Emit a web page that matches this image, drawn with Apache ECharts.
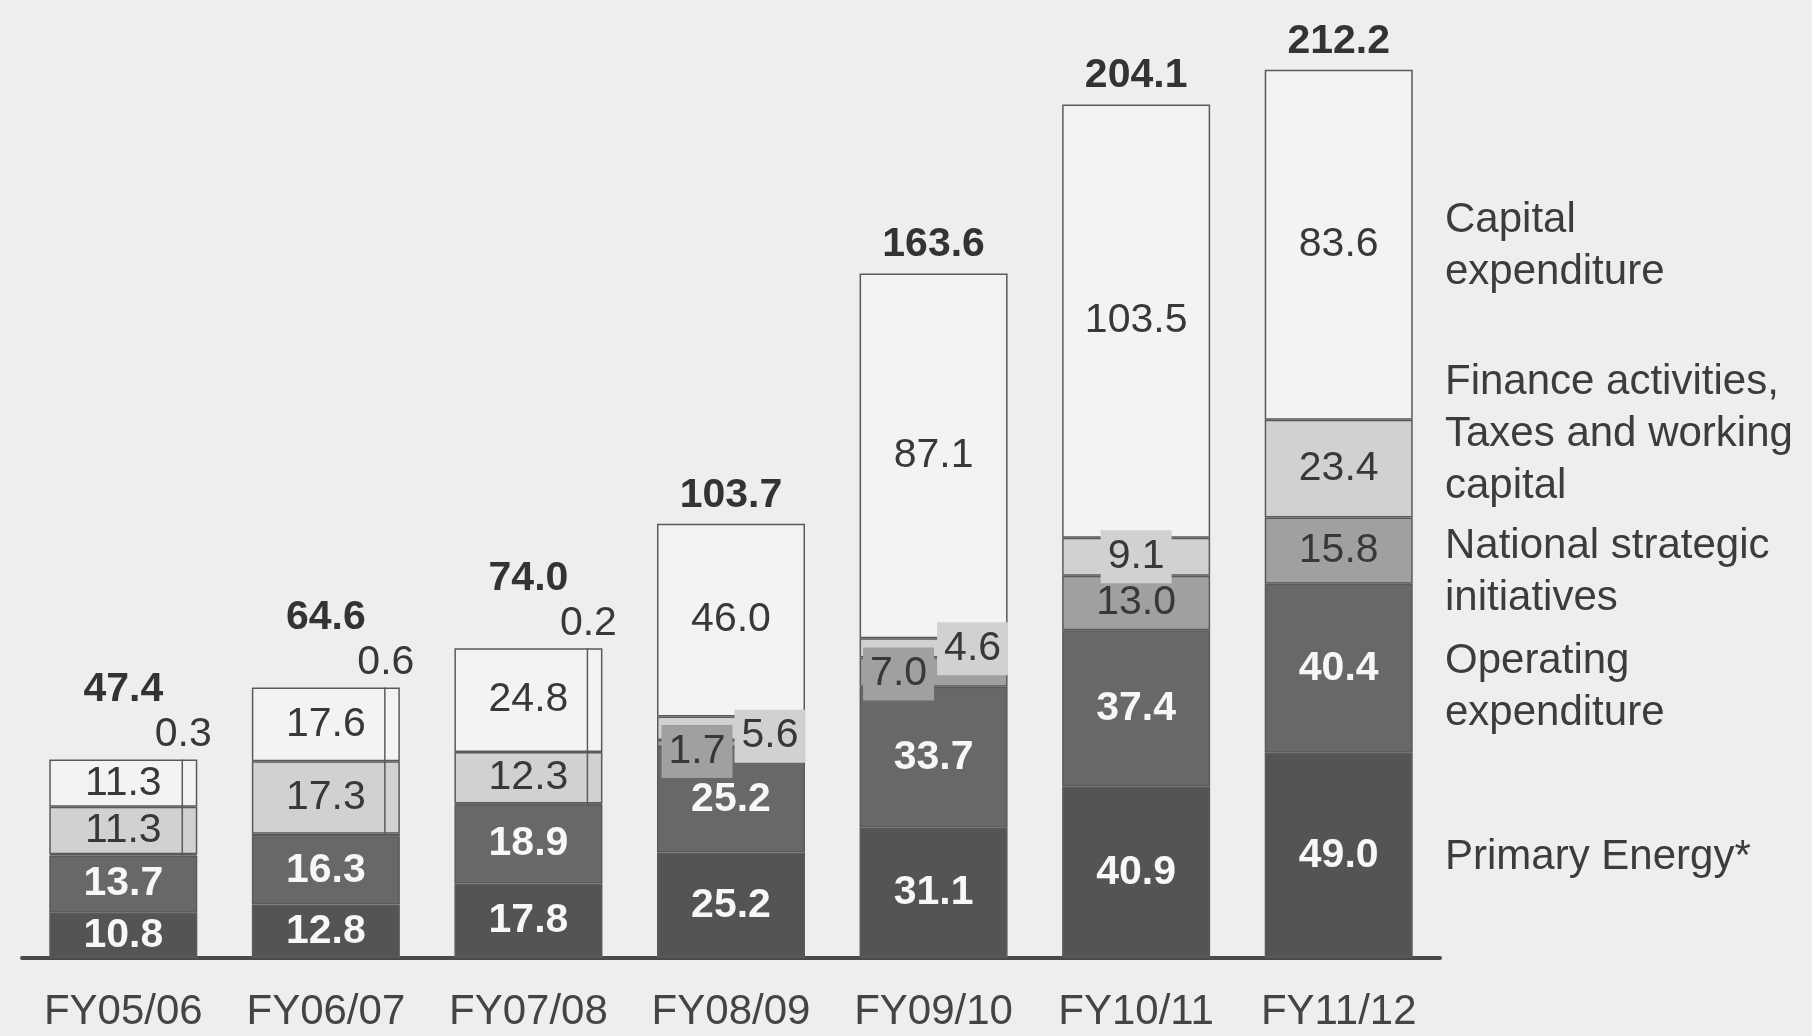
<!DOCTYPE html>
<html>
<head>
<meta charset="utf-8">
<script src="https://cdn.jsdelivr.net/npm/echarts@6/dist/echarts.min.js"></script>
<style>
  html, body { margin: 0; padding: 0; background: #eeeeee; }
  #chart { width: 1812px; height: 1036px; }
</style>
</head>
<body>
<div id="chart"></div>
<script>
// Funding uses by financial year (stacked bottom to top)
const categories = ['FY05/06', 'FY06/07', 'FY07/08', 'FY08/09', 'FY09/10', 'FY10/11', 'FY11/12'];
const primaryEnergy = [10.8, 12.8, 17.8, 25.2, 31.1, 40.9, 49.0];
const operatingExpenditure = [13.7, 16.3, 18.9, 25.2, 33.7, 37.4, 40.4];
const nationalStrategic = [0.3, 0.6, 0.2, 1.7, 7.0, 13.0, 15.8];
const financeTaxesWorking = [11.3, 17.3, 12.3, 5.6, 4.6, 9.1, 23.4];
const capitalExpenditure = [11.3, 17.6, 24.8, 46.0, 87.1, 103.5, 83.6];
const totals = [47.4, 64.6, 74.0, 103.7, 163.6, 204.1, 212.2];
const segmentNames = [
  'Primary Energy*',
  'Operating\nexpenditure',
  'National strategic\ninitiatives',
  'Finance activities,\nTaxes and working\ncapital',
  'Capital\nexpenditure'
];

const FONT = '"Liberation Sans", Arial, sans-serif';
const TEXT = '#383838';
const COLORS = ['#545454', '#686868', '#a0a0a0', '#d1d1d1', '#f3f3f3'];
const LABEL_SIZE = 41;

// years whose strategic-initiative slice is too thin to label inside the bar
const thinNsi = [0, 1, 2];

const segments = [primaryEnergy, operatingExpenditure, nationalStrategic, financeTaxesWorking, capitalExpenditure];

// running bases of the stack
const baseOpexTop = primaryEnergy.map((v, i) => v + operatingExpenditure[i]);
const baseNsiTop = baseOpexTop.map((v, i) => v + nationalStrategic[i]);
const stackTop = baseNsiTop.map((v, i) => v + financeTaxesWorking[i] + capitalExpenditure[i]);

// labels drawn by the overlay series instead (boxed call-outs / notes above the bar)
const nsiHidden = [0, 1, 2, 3, 4];
const finHidden = [3, 4, 5];

function barSeries(idx, hidden, labelStyle) {
  const values = segments[idx];
  return {
    name: segmentNames[idx],
    type: 'bar',
    stack: 'total',
    barWidth: 148,
    z: 2,
    itemStyle: { color: COLORS[idx], borderColor: '#5a5a5a', borderWidth: 1.5 },
    label: Object.assign({
      show: true,
      position: 'inside',
      fontFamily: FONT,
      fontSize: LABEL_SIZE,
      color: TEXT,
      formatter: p => hidden.includes(p.dataIndex) ? '' : values[p.dataIndex].toFixed(1)
    }, labelStyle),
    emphasis: { disabled: true },
    data: values
  };
}

function boxed(cat, y, value, bg, offset) {
  return {
    value: [cat, y],
    label: {
      formatter: value.toFixed(1),
      backgroundColor: bg,
      offset: offset
    }
  };
}

const callouts = [
  boxed(3, baseOpexTop[3] + nationalStrategic[3] / 2, nationalStrategic[3], COLORS[2], [-34, 8]),
  boxed(3, baseNsiTop[3] + financeTaxesWorking[3] / 2, financeTaxesWorking[3], COLORS[3], [39, 8]),
  boxed(4, baseOpexTop[4] + nationalStrategic[4] / 2, nationalStrategic[4], COLORS[2], [-35, 2]),
  boxed(4, baseNsiTop[4] + financeTaxesWorking[4] / 2, financeTaxesWorking[4], COLORS[3], [39, 1]),
  boxed(5, baseNsiTop[5] + financeTaxesWorking[5] / 2, financeTaxesWorking[5], COLORS[3], [0, 0])
];

// invisible anchor points that only carry text
const textOnly = {
  type: 'scatter',
  z: 8,
  silent: true,
  symbolSize: 1,
  itemStyle: { color: 'rgba(0,0,0,0)', opacity: 1 },
  emphasis: { disabled: true }
};

const chart = echarts.init(document.getElementById('chart'), null, { renderer: 'canvas' });

chart.setOption({
  backgroundColor: '#eeeeee',
  animation: false,
  grid: { left: 22, right: 372, top: 37, bottom: 78, outerBoundsMode: 'none' },
  xAxis: {
    type: 'category',
    data: categories,
    axisLine: { lineStyle: { color: '#4a4a4a', width: 4 } },
    axisTick: { show: false },
    axisLabel: { fontFamily: FONT, fontSize: 42, color: '#444444', margin: 33, interval: 0 },
    splitLine: { show: false }
  },
  yAxis: {
    type: 'value', min: 0, max: 220, show: false,
    splitLine: { show: false }
  },
  series: [
    barSeries(0, [], { color: '#f7f7f7', fontWeight: 'bold' }),
    barSeries(1, [], { color: '#f7f7f7', fontWeight: 'bold' }),
    barSeries(2, nsiHidden, {}),
    barSeries(3, finHidden, {}),
    barSeries(4, [], {}),
    {
      // leader lines tying the thin strategic-initiative slice to its label
      type: 'custom',
      z: 6,
      silent: true,
      renderItem: (params, api) => {
        const lo = api.coord([api.value(0), api.value(1)]);
        const hi = api.coord([api.value(0), api.value(2)]);
        const x = lo[0] + 59;
        return {
          type: 'line',
          shape: { x1: x, y1: lo[1], x2: x, y2: hi[1] },
          style: { stroke: '#5a5a5a', lineWidth: 1.5 }
        };
      },
      data: thinNsi.map(i => [i, baseOpexTop[i], stackTop[i]])
    },
    Object.assign({}, textOnly, {
      // boxed call-outs for slices too short to hold their value
      label: {
        show: true, position: 'inside', fontFamily: FONT, fontSize: LABEL_SIZE, color: TEXT,
        padding: [6, 7]
      },
      data: callouts
    }),
    Object.assign({}, textOnly, {
      // strategic-initiative values above the first bars
      label: {
        show: true, position: 'inside', fontFamily: FONT, fontSize: LABEL_SIZE, color: TEXT,
        offset: [60, -25],
        formatter: p => nationalStrategic[p.value[0]].toFixed(1)
      },
      data: thinNsi.map(i => [i, stackTop[i]])
    }),
    Object.assign({}, textOnly, {
      // bar totals
      label: {
        show: true, position: 'inside', fontFamily: FONT, fontSize: LABEL_SIZE, fontWeight: 'bold', color: '#333333',
        formatter: p => totals[p.value[0]].toFixed(1)
      },
      data: totals.map((t, i) => ({
        value: [i, t],
        label: { offset: [0, thinNsi.includes(i) ? -70 : -28] }
      }))
    })
  ],
  graphic: [
    { name: 4, y: 246.7 },
    { name: 3, y: 434 },
    { name: 2, y: 572.6 },
    { name: 1, y: 687.5 },
    { name: 0, y: 857.5 }
  ].map(g => ({
    type: 'text',
    x: 1445,
    y: g.y,
    silent: true,
    style: {
      text: segmentNames[g.name],
      fontFamily: FONT,
      fontSize: 42,
      lineHeight: 52,
      fill: '#3c3c3c',
      align: 'left',
      verticalAlign: 'middle'
    }
  }))
});
</script>
</body>
</html>
